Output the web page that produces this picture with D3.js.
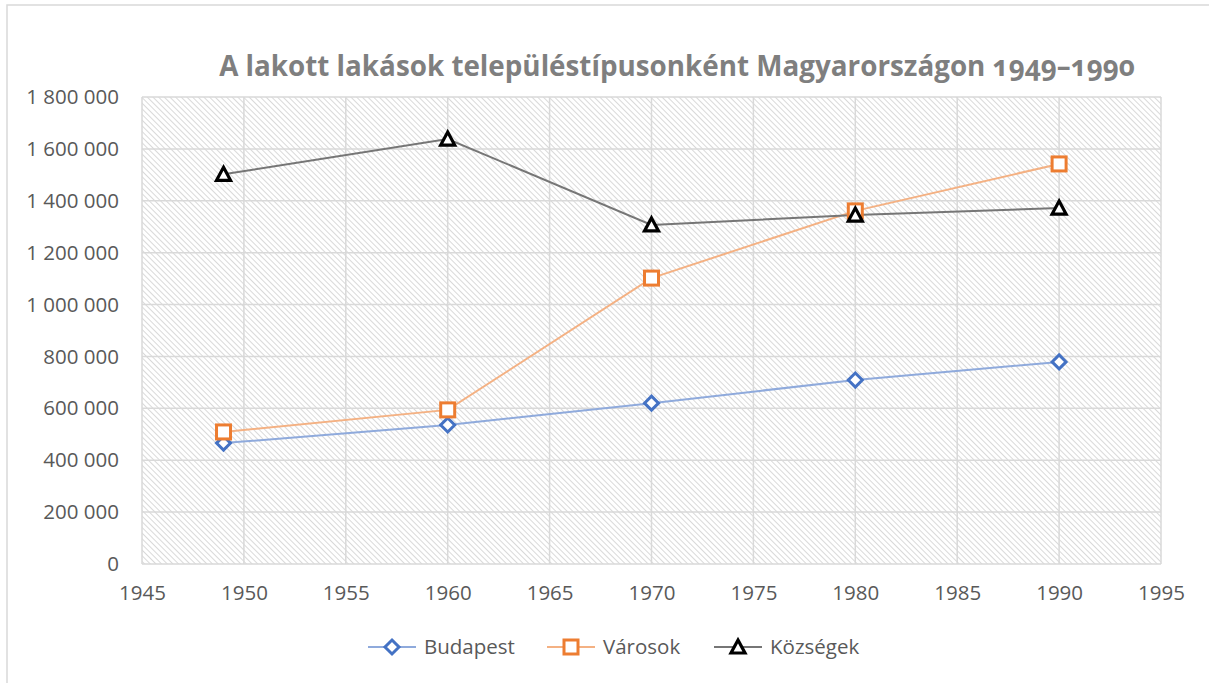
<!DOCTYPE html>
<html><head><meta charset="utf-8">
<script src="https://cdn.jsdelivr.net/npm/d3@7"></script>
<style>body{margin:0;background:#fff;} svg{display:block;font-family:"Open Sans","Noto Sans",sans-serif;}</style>
</head><body><svg id="c" width="1209" height="683"></svg>
<script>
const years = [1949, 1960, 1970, 1980, 1990];
const budapest = [466000, 536000, 620000, 709000, 779000];
const varosok = [509000, 594000, 1102000, 1361000, 1542000];
const kozsegek = [1502000, 1638000, 1307000, 1345000, 1372000];
const seriesNames = ["Budapest", "Városok", "Községek"];
const xTicks = [1945, 1950, 1955, 1960, 1965, 1970, 1975, 1980, 1985, 1990, 1995];
const yTicks = [0, 200000, 400000, 600000, 800000, 1000000, 1200000, 1400000, 1600000, 1800000];
const title = "A lakott lakások településtípusonként Magyarországon 1949–1990";

const svg = d3.select("#c");
const W = 1209, H = 683;
const m = {l: 142, r: 1161, t: 97, b: 564};
const x = d3.scaleLinear().domain([1945, 1995]).range([m.l, m.r]);
const y = d3.scaleLinear().domain([0, 1800000]).range([m.b, m.t]);

// outer frame
svg.append("rect").attr("x", 7).attr("y", 5).attr("width", W + 10).attr("height", H + 10)
  .attr("fill", "#fff").attr("stroke", "#d9d9d9").attr("stroke-width", 1.5);

// hatch pattern
const defs = svg.append("defs");
const pat = defs.append("pattern").attr("id", "hatch").attr("patternUnits", "userSpaceOnUse")
  .attr("width", 4).attr("height", 4).attr("patternTransform", "rotate(45)");
pat.append("rect").attr("width", 4).attr("height", 4).attr("fill", "#fff");
pat.append("line").attr("x1", 0).attr("y1", 0).attr("x2", 4).attr("y2", 0)
  .attr("stroke", "#d3d3d3").attr("stroke-width", 1.7);

svg.append("rect").attr("x", m.l).attr("y", m.t).attr("width", m.r - m.l).attr("height", m.b - m.t)
  .attr("fill", "url(#hatch)");

// gridlines
const grid = svg.append("g").attr("stroke", "#d9d9d9").attr("stroke-width", 1.5);
grid.selectAll(".h").data(yTicks).join("line")
  .attr("x1", m.l).attr("x2", m.r).attr("y1", d => y(d)).attr("y2", d => y(d));
grid.selectAll(".v").data(xTicks).join("line")
  .attr("y1", m.t).attr("y2", m.b).attr("x1", d => x(d)).attr("x2", d => x(d));

// axes labels via d3 axes
const fmt = d => d3.format(",")(d).replace(/,/g, " ");
const yAxis = svg.append("g").attr("transform", `translate(${m.l},0)`)
  .call(d3.axisLeft(y).tickValues(yTicks).tickFormat(fmt).tickSize(0).tickPadding(23));
yAxis.select(".domain").remove();
yAxis.selectAll("text").attr("fill", "#595959").style("font-size", "20.5px")
  .style("font-family", "'Open Sans','Noto Sans',sans-serif");

const xAxis = svg.append("g").attr("transform", `translate(0,${m.b})`)
  .call(d3.axisBottom(x).tickValues(xTicks).tickFormat(d3.format("d")).tickSize(0).tickPadding(21));
xAxis.select(".domain").remove();
xAxis.selectAll("text").attr("fill", "#595959").style("font-size", "20.5px")
  .style("font-family", "'Open Sans','Noto Sans',sans-serif");

// title
svg.append("text").attr("x", 677).attr("y", 76).attr("text-anchor", "middle")
  .attr("fill", "#7f7f7f").style("font-size", "27.8px").style("font-weight", "bold")
  .style("font-variant-numeric", "oldstyle-nums")
  .text(title);

const series = [
  {name: seriesNames[0], vals: budapest, line: "#8faadc", mark: "#4472c4", shape: "diamond"},
  {name: seriesNames[1], vals: varosok, line: "#f4b183", mark: "#ed7d31", shape: "square"},
  {name: seriesNames[2], vals: kozsegek, line: "#767676", mark: "#000000", shape: "triangle"}
];

function marker(g, shape, color) {
  if (shape === "diamond") {
    g.append("path").attr("d", "M0,-7L7,0L0,7L-7,0Z").attr("fill", "#fff").attr("stroke", color).attr("stroke-width", 3);
  } else if (shape === "square") {
    g.append("rect").attr("x", -7).attr("y", -7).attr("width", 14).attr("height", 14)
      .attr("fill", "#fff").attr("stroke", color).attr("stroke-width", 3);
  } else {
    g.append("path").attr("d", "M0,-7L7,6L-7,6Z").attr("fill", "#fff").attr("stroke", color).attr("stroke-width", 3.2)
      .attr("stroke-linejoin", "miter");
  }
}

const line = d3.line().x(d => x(d[0])).y(d => y(d[1]));
series.forEach(s => {
  const pts = years.map((yr, i) => [yr, s.vals[i]]);
  svg.append("path").attr("d", line(pts)).attr("fill", "none").attr("stroke", s.line).attr("stroke-width", 2);
});
series.forEach(s => {
  years.forEach((yr, i) => {
    const g = svg.append("g").attr("transform", `translate(${x(yr)},${y(s.vals[i])})`);
    marker(g, s.shape, s.mark);
  });
});

// legend
const legX = [368, 547, 714];
series.forEach((s, i) => {
  const g = svg.append("g").attr("transform", `translate(${legX[i]},647)`);
  g.append("line").attr("x1", 0).attr("x2", 48).attr("stroke", s.line).attr("stroke-width", 2);
  const mg = g.append("g").attr("transform", "translate(24,0)");
  marker(mg, s.shape, s.mark);
  g.append("text").attr("x", 56).attr("y", 7).attr("fill", "#595959").style("font-size", "20.5px").text(s.name);
});
</script></body></html>
